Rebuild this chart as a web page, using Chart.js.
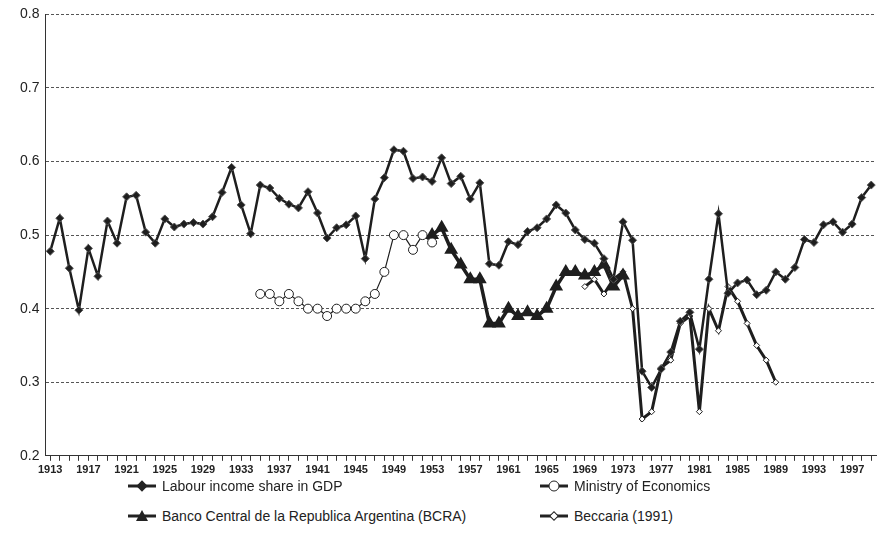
<!DOCTYPE html><html><head><script src="https://cdn.jsdelivr.net/npm/chart.js@4"></script>
<style>body{margin:0;background:#fff;font-family:"Liberation Sans",Arial,sans-serif}
#wrap{position:relative;width:884px;height:480px}
.leg{position:absolute;font-size:14px;color:#222;display:flex;align-items:center;gap:6px}
</style></head><body>
<div id="wrap"><canvas id="c" width="884" height="480"></canvas></div>
<div class="leg" style="left:128px;top:478px"><svg width="28" height="12"><line x1="0" y1="6" x2="28" y2="6" stroke="#222" stroke-width="3"/><rect x="10" y="2" width="8" height="8" fill="#222" transform="rotate(45 14 6)"/></svg>Labour income share in GDP</div>
<div class="leg" style="left:540px;top:478px"><svg width="28" height="12"><line x1="0" y1="6" x2="28" y2="6" stroke="#222" stroke-width="3"/><circle cx="14" cy="6" r="5" fill="#fff" stroke="#222"/></svg>Ministry of Economics</div>
<div class="leg" style="left:128px;top:508px"><svg width="28" height="12"><line x1="0" y1="6" x2="28" y2="6" stroke="#222" stroke-width="3"/><polygon points="14,0 20,11 8,11" fill="#222"/></svg>Banco Central de la Republica Argentina (BCRA)</div>
<div class="leg" style="left:540px;top:508px"><svg width="28" height="12"><line x1="0" y1="6" x2="28" y2="6" stroke="#222" stroke-width="3"/><rect x="11" y="3" width="6" height="6" fill="#fff" stroke="#222" transform="rotate(45 14 6)"/></svg>Beccaria (1991)</div>
<script>
const years=[];for(let y=1913;y<=1999;y++)years.push(String(y));
const labour=[.478,.523,.455,.398,.482,.444,.519,.489,.552,.554,.504,.489,.522,.511,.515,.517,.515,.525,.558,.592,.541,.502,.568,.564,.550,.542,.537,.559,.530,.496,.510,.514,.526,.468,.549,.578,.616,.614,.577,.579,.573,.605,.570,.580,.549,.571,.461,.459,.491,.487,.505,.510,.522,.541,.530,.507,.494,.489,.468,.440,.518,.493,.315,.293,.318,.341,.383,.395,.345,.440,.529,.421,.435,.439,.419,.425,.450,.440,.456,.494,.490,.514,.518,.504,.515,.551,.568];
const ministryStart=1935;
const ministry=[.42,.42,.41,.42,.41,.40,.40,.39,.40,.40,.40,.41,.42,.45,.50,.50,.48,.50,.49];
const bcraStart=1953;
const bcra=[.50,.51,.48,.46,.44,.44,.38,.38,.40,.39,.395,.39,.40,.43,.45,.45,.445,.45,.46,.43,.445];
const beccariaStart=1969;
const beccaria=[.43,.44,.42,.44,.45,.40,.25,.26,.32,.33,.38,.39,.26,.40,.37,.43,.41,.38,.35,.33,.30];
function place(start,arr){const out=years.map(()=>null);arr.forEach((v,i)=>{out[start-1913+i]=v});return out;}
const k='#1e1e1e';
new Chart(document.getElementById('c'),{type:'line',data:{labels:years,datasets:[
{data:labour,borderColor:k,borderWidth:2.5,pointStyle:'rectRot',pointRadius:4,pointBackgroundColor:k,pointBorderColor:'#555',pointBorderWidth:1},
{data:place(ministryStart,ministry),borderColor:k,borderWidth:1.2,pointStyle:'circle',pointRadius:4.5,pointBackgroundColor:'#fff',pointBorderColor:k,pointBorderWidth:1},
{data:place(bcraStart,bcra),borderColor:k,borderWidth:3.5,pointStyle:'triangle',pointRadius:4.5,pointBackgroundColor:k,pointBorderColor:k},
{data:place(beccariaStart,beccaria),borderColor:k,borderWidth:3,pointStyle:'rectRot',pointRadius:3,pointBackgroundColor:'#fff',pointBorderColor:k,pointBorderWidth:1}
]},options:{animation:false,responsive:false,spanGaps:false,layout:{padding:{right:0,top:6,left:14}},
plugins:{legend:{display:false},tooltip:{enabled:false}},
scales:{x:{offset:true,grid:{display:true,drawOnChartArea:false,color:'#333',tickLength:5},border:{color:'#333'},
ticks:{autoSkip:false,maxRotation:0,font:{size:11,weight:'bold'},color:'#222',callback:(v,i)=>i%4===0?years[i]:''}},
y:{min:0.2,max:0.8,grid:{color:'#555',tickLength:0},border:{color:'#333',dash:[3,2]},
ticks:{stepSize:0.1,font:{size:14},color:'#222',callback:v=>v.toFixed(1),padding:6}}}}});
</script></body></html>
